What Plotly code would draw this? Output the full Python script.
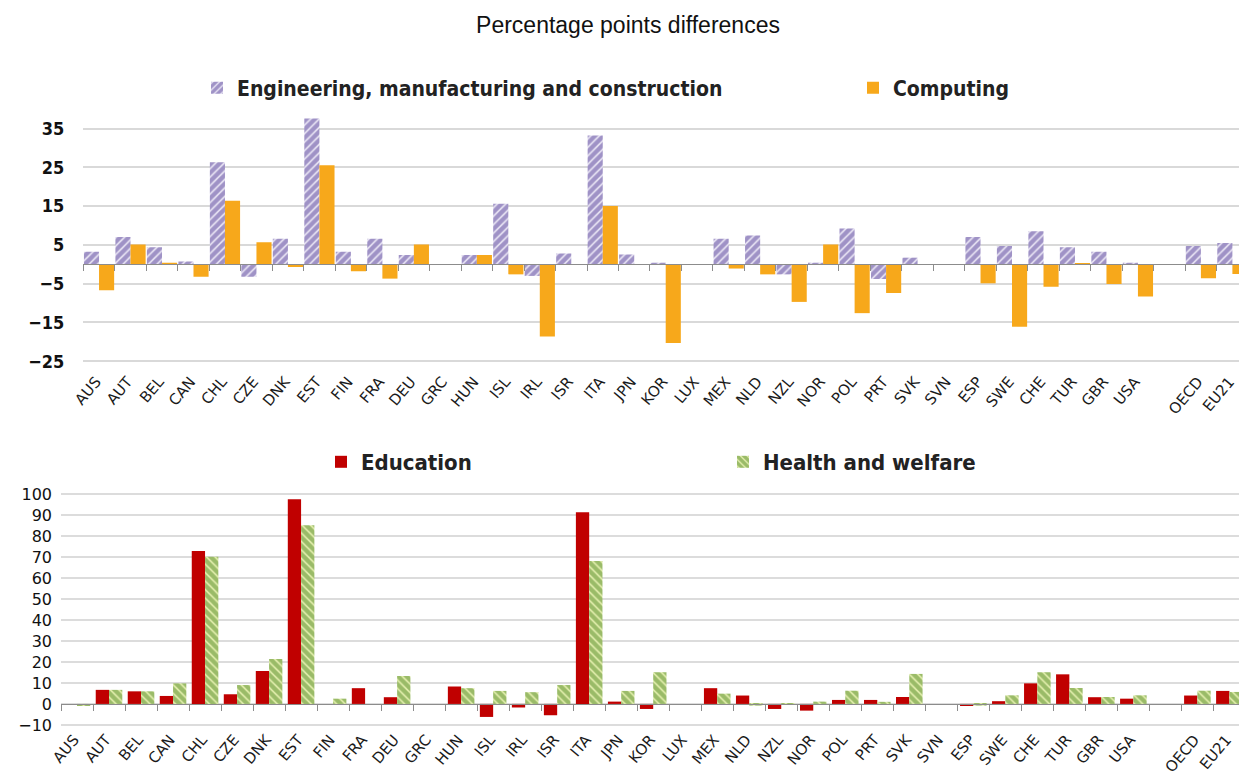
import plotly.graph_objects as go

countries = ["AUS", "AUT", "BEL", "CAN", "CHL", "CZE", "DNK", "EST", "FIN", "FRA", "DEU", "GRC",
             "HUN", "ISL", "IRL", "ISR", "ITA", "JPN", "KOR", "LUX", "MEX", "NLD", "NZL", "NOR",
             "POL", "PRT", "SVK", "SVN", "ESP", "SWE", "CHE", "TUR", "GBR", "USA", " ", "OECD", "EU21"]

engineering = [3.2, 7.0, 4.4, 0.7, 26.3, -3.2, 6.6, 37.6, 3.2, 6.6, 2.4, None,
               2.4, 15.6, -3.0, 2.8, 33.2, 2.5, 0.4, None, 6.6, 7.4, -2.6, 0.4,
               9.2, -3.8, 1.7, None, 7.0, 4.7, 8.5, 4.4, 3.2, 0.4, None, 4.7, 5.5]
computing = [-6.7, 5.1, 0.4, -3.2, 16.4, 5.7, -0.7, 25.5, -1.8, -3.7, 5.1, None,
             2.4, -2.6, -18.6, None, 15.0, None, -20.3, None, -1.1, -2.6, -9.7, 5.1,
             -12.6, -7.4, None, None, -4.9, -16.1, -5.8, 0.3, -5.1, -8.3, None, -3.6, -2.5]
education = [None, 6.7, 6.0, 3.8, 72.9, 4.6, 15.7, 97.5, None, 7.5, 3.2, None,
             8.3, -6.2, -1.7, -5.4, 91.4, 1.1, -2.4, None, 7.5, 4.0, -2.4, -3.2,
             1.9, 1.9, 3.3, None, -1.0, 1.3, 9.8, 14.1, 3.2, 2.5, None, 4.0, 6.2]
health = [-1.0, 6.7, 6.0, 9.8, 70.2, 9.0, 21.4, 85.2, 2.5, None, 13.3, None,
          7.5, 6.2, 5.6, 9.0, 68.1, 6.2, 15.1, None, 4.9, -0.8, 0.3, 1.1,
          6.3, 1.0, 14.3, None, -0.8, 4.1, 15.1, 7.6, 3.3, 4.1, None, 6.3, 5.7]

W, H = 1239, 778
TOP_RANGE = [-27, 39]
BOT_RANGE = [-11, 101]
top_dom = [(H - 369) / H, (H - 113) / H]
bot_dom = [(H - 727) / H, (H - 492) / H]


def zero_frac(dom, rng):
    return dom[0] + (0 - rng[0]) / (rng[1] - rng[0]) * (dom[1] - dom[0])


fig = go.Figure()
fig.add_trace(go.Bar(
    x=countries, y=engineering, name="Engineering, manufacturing and construction",
    xaxis="x", yaxis="y", offset=-0.48, width=0.48,
    marker=dict(color="#E6E1F2", line=dict(width=0),
                pattern=dict(shape="/", fgcolor="#57449A", size=6, solidity=0.7, fillmode="overlay")),
    legend="legend"))
fig.add_trace(go.Bar(
    x=countries, y=computing, name="Computing", xaxis="x", yaxis="y",
    offset=0, width=0.48, marker=dict(color="#F7A81B", line=dict(width=0)), legend="legend2"))
fig.add_trace(go.Bar(
    x=countries, y=education, name="Education", xaxis="x2", yaxis="y2",
    offset=-0.415, width=0.415, marker=dict(color="#C00000", line=dict(width=0)), legend="legend3"))
fig.add_trace(go.Bar(
    x=countries, y=health, name="Health and welfare", xaxis="x2", yaxis="y2",
    offset=0, width=0.415,
    marker=dict(color="#E0ECAA", line=dict(width=0),
                pattern=dict(shape="\\", fgcolor="#548A26", size=6, solidity=0.7, fillmode="overlay")),
    legend="legend4"))
# empty helper traces so the zero-line tick axes are drawn
fig.add_trace(go.Scatter(x=[], y=[], xaxis="x3", yaxis="y", showlegend=False, hoverinfo="skip"))
fig.add_trace(go.Scatter(x=[], y=[], xaxis="x4", yaxis="y2", showlegend=False, hoverinfo="skip"))

tickfont_x = dict(family="DejaVu Sans", size=15, color="#1a1a1a")
cat = dict(type="category", categoryorder="array", categoryarray=countries)

top_xr = [-0.5, 36.21]
bot_xr = [-0.5, 36.3]

leg_font_top = dict(family="DejaVu Sans Condensed, DejaVu Sans", size=21, color="#222222", weight="bold")
leg_font_bot = dict(family="DejaVu Sans Condensed, DejaVu Sans", size=22, color="#222222", weight="bold")


def leg(x_px, y_px, font):
    return dict(orientation="h", x=x_px / W, xanchor="left", y=1 - y_px / H, yanchor="middle",
                font=font, bgcolor="rgba(0,0,0,0)")


fig.update_layout(
    width=W, height=H,
    margin=dict(l=0, r=0, t=0, b=0),
    paper_bgcolor="white", plot_bgcolor="white",
    showlegend=True,
    title=dict(text="Percentage points differences", x=628 / W, xanchor="center",
               y=1 - 25 / H, yanchor="middle",
               font=dict(family="Liberation Sans, Arial", size=23, color="#111111")),
    xaxis=dict(**cat, domain=[83.3 / W, 1], range=top_xr, anchor="y", showline=False, ticks="",
               tickangle=-50, tickfont=tickfont_x, showgrid=False, automargin=False,
               ticklabelshift=-3),
    yaxis=dict(domain=top_dom, range=TOP_RANGE, anchor="x", tick0=5, dtick=10,
               showgrid=True, gridcolor="#D9D9D9", gridwidth=1.5, zeroline=False,
               ticks="", ticklabelstandoff=18, automargin=False,
               tickfont=dict(family="DejaVu Sans Condensed, DejaVu Sans", size=18,
                             color="#111111", weight="bold")),
    xaxis3=dict(**cat, overlaying="x", anchor="free", position=zero_frac(top_dom, TOP_RANGE),
                range=top_xr, showticklabels=False, showgrid=False, showline=True,
                linecolor="#8C8C8C", linewidth=1.2, ticks="outside", tickson="boundaries",
                ticklen=6, tickcolor="#8C8C8C", automargin=False),
    xaxis2=dict(**cat, domain=[61 / W, 1], range=bot_xr, anchor="y2", showline=False, ticks="",
                tickangle=-50, tickfont=tickfont_x, showgrid=False, automargin=False,
                ticklabelshift=-3),
    yaxis2=dict(domain=bot_dom, range=BOT_RANGE, anchor="x2", dtick=10,
                showgrid=True, gridcolor="#DCDCDC", gridwidth=1.5, zeroline=False,
                ticks="", ticklabelstandoff=8, automargin=False,
                tickfont=dict(family="DejaVu Sans", size=16, color="#111111")),
    xaxis4=dict(**cat, overlaying="x2", anchor="free", position=zero_frac(bot_dom, BOT_RANGE),
                range=bot_xr, showticklabels=False, showgrid=False, showline=True,
                linecolor="#8C8C8C", linewidth=1.2, ticks="outside", tickson="boundaries",
                ticklen=6, tickcolor="#8C8C8C", automargin=False),
    legend=leg(197, 88, leg_font_top),
    legend2=leg(853, 88, leg_font_top),
    legend3=leg(321, 462, leg_font_bot),
    legend4=leg(723, 462, leg_font_bot),
)

fig.write_html("out.html", config={"displayModeBar": False},
               post_script="document.body.style.margin='0';")
